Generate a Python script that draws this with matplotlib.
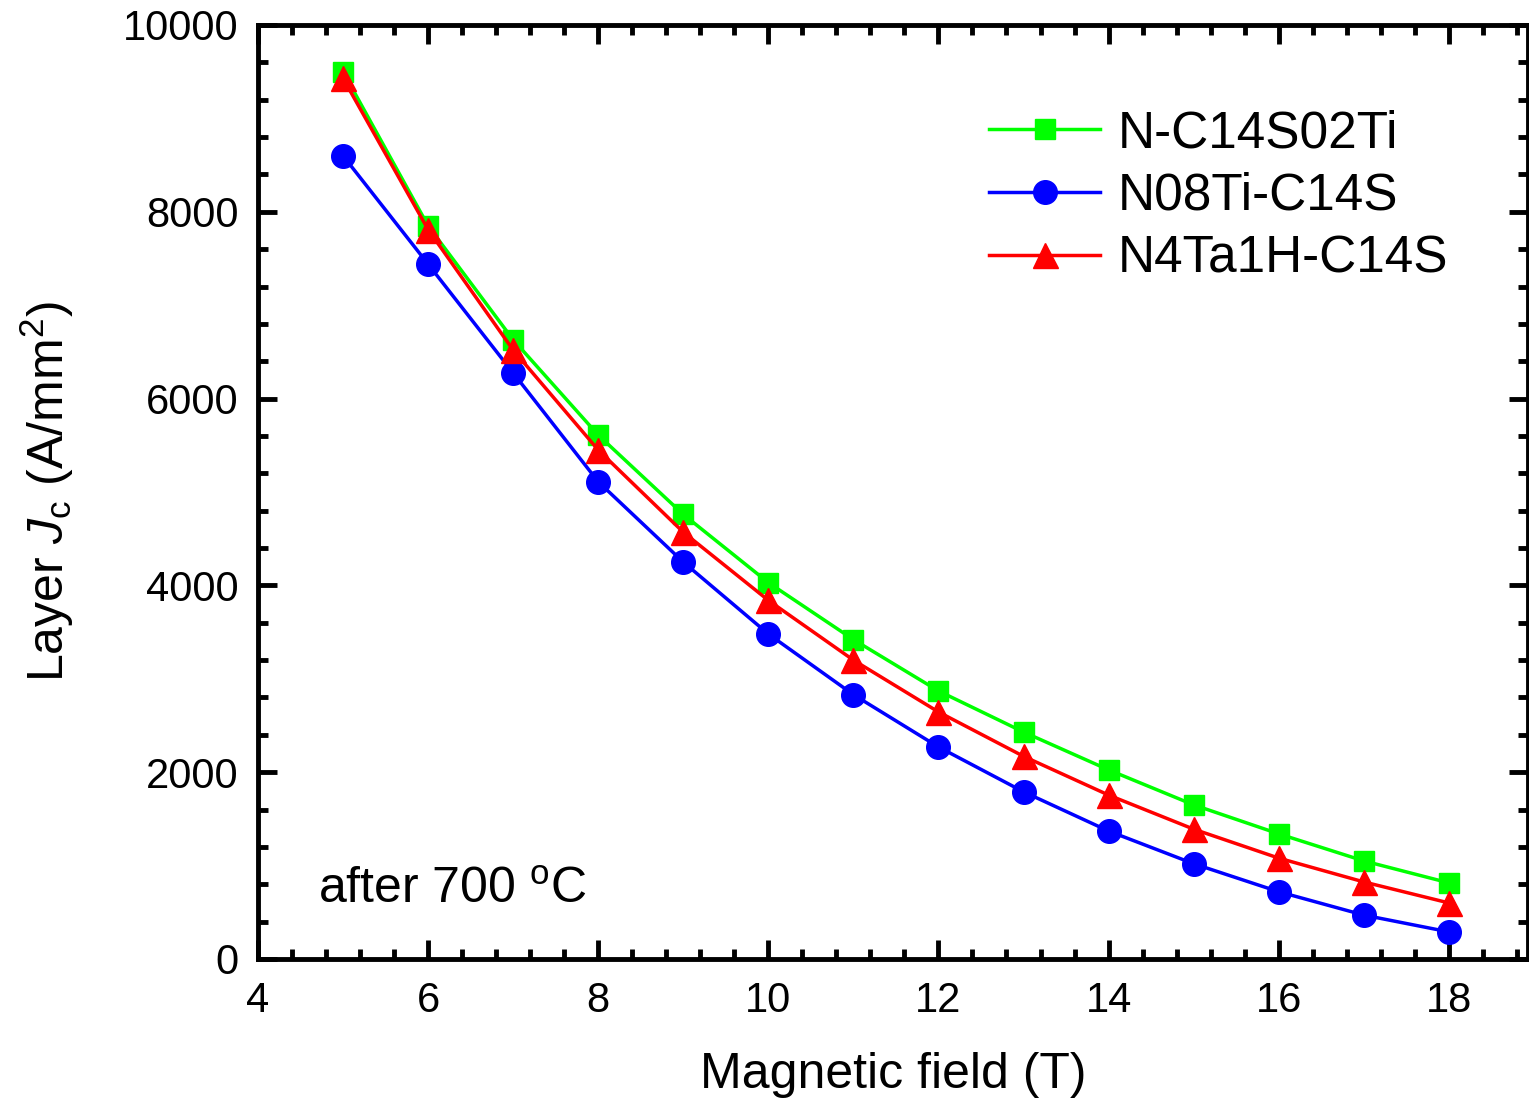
import matplotlib
matplotlib.use('Agg')
import matplotlib.pyplot as plt
from matplotlib.ticker import MultipleLocator

plt.rcParams['font.family'] = ['Liberation Sans', 'DejaVu Sans']
plt.rcParams['mathtext.fontset'] = 'custom'
plt.rcParams['mathtext.rm'] = 'Liberation Sans'
plt.rcParams['mathtext.it'] = 'Liberation Sans:italic'

field = [5, 6, 7, 8, 9, 10, 11, 12, 13, 14, 15, 16, 17, 18]
jc_c14s02ti = [9500, 7850, 6630, 5610, 4760, 4030, 3420, 2870, 2430, 2025, 1650, 1340, 1050, 815]
jc_n08ti = [8600, 7440, 6275, 5110, 4250, 3480, 2830, 2270, 1790, 1370, 1020, 720, 470, 290]
jc_n4ta1h = [9430, 7810, 6520, 5450, 4570, 3840, 3200, 2645, 2170, 1755, 1390, 1080, 825, 600]
labels = ['N-C14S02Ti', 'N08Ti-C14S', 'N4Ta1H-C14S']

fig = plt.figure(figsize=(15.29, 11.01), dpi=100)
ax = fig.add_axes([0.1687, 0.129, 0.8306, 0.8483])

ax.plot(field, jc_c14s02ti, color='#00ff00', marker='s', ms=15, lw=2.5, label=labels[0])
ax.plot(field, jc_n08ti, color='#0000ff', marker='o', ms=17, lw=2.5, label=labels[1])
ax.plot(field, jc_n4ta1h, color='#ff0000', marker='^', ms=18, lw=2.5, label=labels[2])

ax.set_xlim(4, 18.93)
ax.set_ylim(0, 10000)
ax.xaxis.set_major_locator(MultipleLocator(2))
ax.xaxis.set_minor_locator(MultipleLocator(0.4))
ax.yaxis.set_major_locator(MultipleLocator(2000))
ax.yaxis.set_minor_locator(MultipleLocator(400))
ax.tick_params(which='both', direction='in', top=True, right=True, width=3.5, labelsize=30)
ax.tick_params(which='major', length=14)
ax.tick_params(which='minor', length=7)
ax.tick_params(axis='x', which='major', pad=16)
ax.tick_params(axis='y', which='major', pad=14)
for s in ax.spines.values():
    s.set_linewidth(3.5)

ax.set_xlabel('Magnetic field (T)', fontsize=36, labelpad=22)
ax.set_ylabel(r'Layer $J_{\mathrm{c}}$ (A/mm$^{2}$)', fontsize=36, labelpad=34)
ax.text(0.047, 0.06, r'after 700 $^{\mathrm{o}}$C', transform=ax.transAxes, fontsize=36)

ax.legend(loc='upper left', bbox_to_anchor=(0.576, 0.91), frameon=False, fontsize=37,
          handlelength=2.15, handletextpad=0.35, labelspacing=0.27, borderpad=0,
          borderaxespad=0)

fig.savefig('out.png', dpi=100)
